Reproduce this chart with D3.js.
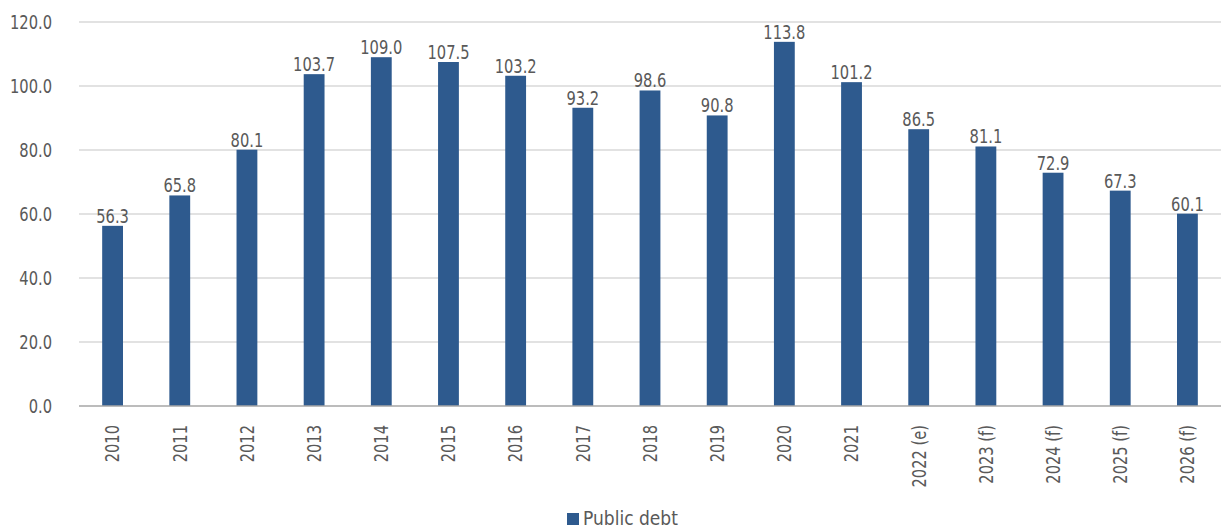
<!DOCTYPE html>
<html lang="en">
<head>
  <meta charset="UTF-8" />
  <title>Public debt</title>
  <script src="https://d3js.org/d3.v7.min.js"></script>
  <style>
    body {
      margin: 0;
      background: #fff;
    }
    svg {
      display: block;
      font-family: "DejaVu Sans Condensed", "DejaVu Sans", sans-serif;
    }
    .grid line {
      stroke: #d9d9d9;
      stroke-width: 1.3px;
    }
    .tick-label, .bar-label, .legend text {
      fill: #595959;
      font-size: 19px;
    }
  </style>
</head>
<body>
<svg width="1226" height="530"></svg>
<script>
const years = ["2010", "2011", "2012", "2013", "2014", "2015", "2016", "2017", "2018",
  "2019", "2020", "2021", "2022 (e)", "2023 (f)", "2024 (f)", "2025 (f)", "2026 (f)"];
const debt = [56.3, 65.8, 80.1, 103.7, 109.0, 107.5, 103.2, 93.2, 98.6,
  90.8, 113.8, 101.2, 86.5, 81.1, 72.9, 67.3, 60.1];
const yTicks = [0, 20, 40, 60, 80, 100, 120];
const seriesName = "Public debt";

const svg = d3.select("svg");
const plotLeft = 79, plotRight = 1221, plotTop = 22, plotBottom = 406;
const barColor = "#2e5a8e";
const squeeze = "scale(0.86,1)"; // the original font is narrower than what we have

const x = d3.scaleBand().domain(years).range([plotLeft, plotRight]).paddingInner(0.69).paddingOuter(0.345);
const y = d3.scaleLinear().domain([0, 120]).range([plotBottom, plotTop]);

// gridlines
svg.append("g").attr("class", "grid")
  .selectAll("line")
  .data(yTicks.filter(d => d > 0))
  .join("line")
  .attr("x1", plotLeft).attr("x2", plotRight)
  .attr("y1", d => y(d)).attr("y2", d => y(d));

// y tick labels
svg.append("g")
  .selectAll("text")
  .data(yTicks)
  .join("text")
  .attr("class", "tick-label")
  .attr("transform", d => `translate(52,${y(d)}) ${squeeze}`)
  .attr("dy", "0.36em")
  .attr("text-anchor", "end")
  .text(d => d.toFixed(1));

// bars
svg.append("g")
  .selectAll("rect")
  .data(debt)
  .join("rect")
  .attr("x", (d, i) => x(years[i]))
  .attr("width", x.bandwidth())
  .attr("y", d => y(d))
  .attr("height", d => y(0) - y(d))
  .attr("fill", barColor);

// value labels
svg.append("g")
  .selectAll("text")
  .data(debt)
  .join("text")
  .attr("class", "bar-label")
  .attr("transform", (d, i) => `translate(${x(years[i]) + x.bandwidth() / 2},${y(d) - 3}) ${squeeze}`)
  .attr("text-anchor", "middle")
  .text(d => d.toFixed(1));

// baseline
svg.append("line")
  .attr("x1", plotLeft).attr("x2", plotRight)
  .attr("y1", y(0)).attr("y2", y(0))
  .attr("stroke", "#a6a6a6")
  .attr("stroke-width", 1.5);

// x labels, rotated
svg.append("g")
  .selectAll("text")
  .data(years)
  .join("text")
  .attr("class", "tick-label")
  .attr("transform", d => `translate(${x(d) + x.bandwidth() / 2},425) rotate(-90) ${squeeze}`)
  .attr("dy", "0.36em")
  .attr("text-anchor", "end")
  .text(d => d);

// legend
const legend = svg.append("g").attr("class", "legend").attr("transform", "translate(567,518)");
legend.append("rect")
  .attr("x", 0).attr("y", -5)
  .attr("width", 12).attr("height", 12)
  .attr("fill", barColor);
legend.append("text")
  .attr("x", 16)
  .attr("dy", "0.36em")
  .text(seriesName);
</script>
</body>
</html>
